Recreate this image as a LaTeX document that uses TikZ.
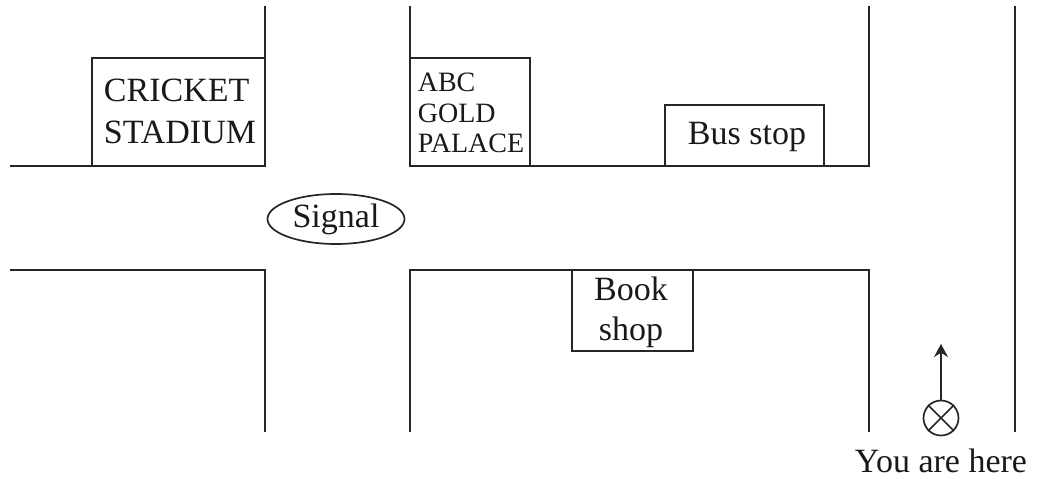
\documentclass[tikz,border=0pt]{standalone}
\usepackage{fontspec}
\setmainfont{Liberation Serif}
\usetikzlibrary{shapes.geometric,arrows.meta}
\tikzset{line/.style={draw=black!85,line width=1.7pt},
 lab/.style={font=\fontsize{34}{42}\selectfont,text=black!90,inner sep=0pt,align=center},
 small/.style={font=\fontsize{28}{30.5}\selectfont,text=black!90,inner sep=0pt,align=left},
 box/.style={line,fill=white}}
\begin{document}
\begin{tikzpicture}[x=1pt,y=-1pt]
\useasboundingbox (0,0) rectangle (1044,479);
\coordinate (a1) at (265,6); \coordinate (a2) at (265,166);
\coordinate (b1) at (410,6); \coordinate (b2) at (410,166);
\coordinate (c1) at (869,6); \coordinate (c2) at (869,166);
\coordinate (l1) at (10,166);
\coordinate (m1) at (10,270); \coordinate (m2) at (265,270); \coordinate (m3) at (265,432);
\coordinate (n1) at (410,432); \coordinate (n2) at (410,270); \coordinate (n3) at (869,270); \coordinate (n4) at (869,432);
\coordinate (r1) at (1015,6); \coordinate (r2) at (1015,432);
\draw[line] (a1)--(a2)--(l1);
\draw[line] (b1)--(b2)--(c2)--(c1);
\draw[line] (m1)--(m2)--(m3);
\draw[line] (n1)--(n2)--(n3)--(n4);
\draw[line] (r1)--(r2);
\draw[box] (92,58) rectangle (265,166);
\node[lab,align=left] (stadium) at (180,111) {CRICKET\\STADIUM};
\draw[box] (410,58) rectangle (530,166);
\node[small] (gold) at (471,113) {ABC\\GOLD\\PALACE};
\draw[box] (665,105) rectangle (824,166);
\node[lab] (bus) at (747,137) {Bus stop};
\draw[box] (572,270) rectangle (693,351);
\node[lab,font=\fontsize{34}{40}\selectfont] (book) at (631,312) {Book\\shop};
\node[ellipse,draw=black!85,line width=1.7pt,minimum width=137pt,minimum height=50pt,lab] (signal) at (336,219) {Signal};
\node[circle,draw=black!85,line width=1.7pt,minimum size=35pt,inner sep=0pt] (here) at (941,418) {};
\draw[black!85,line width=1.7pt] (here.north west)--(here.south east) (here.north east)--(here.south west);
\coordinate (tip) at (941,344);
\draw[line,-{Stealth[length=13pt,width=14pt]}] (here.north)--(tip);
\node[lab] (you) at (941,461) {You are here};
\end{tikzpicture}
\end{document}
